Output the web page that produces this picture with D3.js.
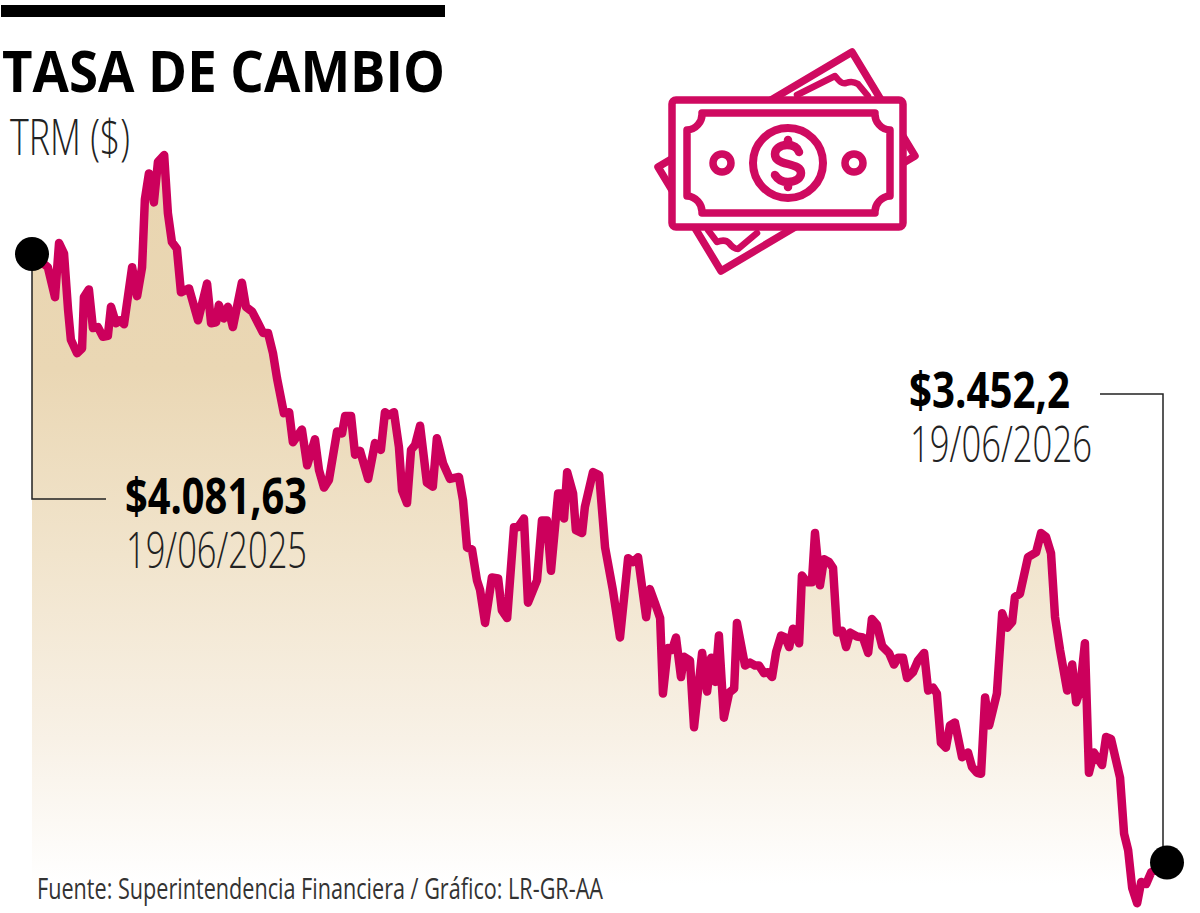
<!DOCTYPE html>
<html lang="es">
<head>
<meta charset="utf-8">
<title>Tasa de cambio</title>
<script src="https://cdn.jsdelivr.net/npm/d3@7"></script>
<style>
  html, body { margin: 0; padding: 0; background: #fff; }
  svg { display: block; }
  text { font-family: "Open Sans", "DejaVu Sans", sans-serif; }
</style>
</head>
<body>
<div id="chart"></div>
<script>
// Días transcurridos desde el 19/06/2025
const dias = [0,5.1,7.4,8.7,10.3,11.6,12.5,14.5,16.1,16.7,18.3,19.6,21.2,22.8,24.4,25.4,27,28.3,29.6,32.2,33.8,35.4,36.3,37.6,39.2,40.5,42.5,43.7,45,46.6,47.9,50.5,53.4,56.3,57.6,59.2,60.1,61.7,63,64.6,67.5,68.8,70.8,72.4,74.3,75.9,77.5,78.8,81,82.7,83.9,86.8,88.5,91,92.3,93.9,95.5,98.1,99.7,100.7,102.6,103.9,105.5,108.1,110.3,112.2,113.5,114.8,116.4,118,119,120.6,121.9,123.2,124.8,127,128.9,130.2,132.2,134.4,137.3,138.6,139.9,141.5,143.1,144.1,145.7,147.9,149.9,151.1,152.8,155,156.3,158.2,159.5,162.4,164,165.6,166.9,169.2,170.4,171.1,172.1,174,174.9,176.9,177.8,180.4,182.4,184.3,186.8,189.1,191.7,193.3,194.9,197.5,198.7,200.4,202,202.9,204.5,205.8,207.1,208.7,209.7,211.6,212.9,215.5,217.1,218.4,219.7,220.9,222.5,224.2,225.8,226.7,229.3,230.9,232.5,233.8,235.4,236.7,238,239.3,240.9,242.2,243.5,244.7,246.7,247.6,249.2,250.8,251.8,253.4,254.7,256.3,257.6,258.9,260.5,261.8,263.1,265.3,267.2,268.9,270.1,271.7,273.4,275.6,277.2,278.5,280.1,281.4,283.3,284.9,286.9,288.2,289.8,291,292.3,293.9,295.2,296.8,299.1,301,302.3,303.9,305.2,306.5,307.8,310.3,312,313.6,315.2,316.1,317.7,320.3,322.9,324.5,326.1,327.7,329,330.6,332.9,334.5,335.8,337,338.6,339.9,341.5,344.1,345.4,347,349.9,351.2,352.5,353.8,355.4,356.7,358.3,359.9,365];

// TRM en pesos por dólar
const trm = [4081.63,4068,4037,4093,4082,4024,3993,3979,3984,4037,4045,4005,4006,3996,3997,4027,4010,4013,4009,4068,4038,4068,4138,4165,4135,4177,4184,4124,4094,4087,4042,4046,4013,4051,4010,4011,4029,4015,4027,4006,4052,4027,4022,4012,4000,4000,3979,3953,3917,3918,3887,3900,3863,3890,3858,3840,3848,3898,3896,3914,3914,3874,3878,3849,3886,3879,3918,3915,3918,3882,3837,3824,3879,3884,3904,3845,3841,3891,3865,3849,3851,3827,3778,3776,3744,3734,3700,3747,3746,3713,3705,3799,3799,3808,3721,3744,3806,3806,3754,3834,3834,3808,3856,3834,3796,3793,3820,3856,3853,3778,3734,3685,3767,3763,3768,3706,3735,3720,3705,3627,3674,3672,3685,3644,3665,3661,3592,3669,3629,3664,3639,3687,3602,3628,3632,3700,3656,3659,3656,3656,3648,3649,3644,3670,3687,3685,3675,3694,3679,3749,3742,3742,3793,3739,3766,3763,3757,3690,3692,3675,3690,3686,3685,3669,3704,3698,3676,3669,3657,3664,3664,3643,3649,3661,3669,3630,3633,3627,3576,3571,3594,3597,3561,3566,3551,3545,3544,3623,3594,3627,3710,3695,3701,3727,3730,3768,3773,3793,3789,3772,3706,3672,3630,3657,3618,3630,3679,3545,3566,3553,3582,3580,3540,3482,3465,3426,3410,3432,3430,3442,3452.2];

const titulo = "TASA DE CAMBIO";
const subtitulo = "TRM ($)";
const valorInicial = "$4.081,63";
const fechaInicial = "19/06/2025";
const valorFinal = "$3.452,2";
const fechaFinal = "19/06/2026";
const fuente = "Fuente: Superintendencia Financiera / Gráfico: LR-GR-AA";

const serie = dias.map((d, i) => ({ dia: d, valor: trm[i] }));

const svg = d3.select("#chart").append("svg")
  .attr("width", 1200).attr("height", 913).attr("viewBox", "0 0 1200 913");

const x = d3.scaleLinear().domain([0, 365]).range([32, 1167]);
const y = d3.scaleLinear().domain([3452.2, 4081.63]).range([862.5, 254]);
const piso = 3400;

// Degradado arena que se desvanece hacia la base del área
const grad = svg.append("defs").append("linearGradient")
  .attr("id", "arena").attr("gradientUnits", "userSpaceOnUse")
  .attr("x1", 0).attr("x2", 0).attr("y1", 150).attr("y2", 885);
grad.selectAll("stop")
  .data([[0, "#e9d5b0"], [0.3, "#ead7b4"], [0.55, "#f1e4cc"], [0.8, "#f8f1e6"], [1, "#ffffff"]])
  .join("stop")
  .attr("offset", d => d[0]).attr("stop-color", d => d[1]);

// Franja y título
svg.append("rect").attr("x", 1).attr("y", 5).attr("width", 444).attr("height", 12).attr("fill", "#000");

function rotulo(txt, px, py, size, weight, ancho, color) {
  return svg.append("text")
    .attr("x", px).attr("y", py)
    .attr("font-size", size).attr("font-weight", weight)
    .attr("fill", color || "#000")
    .attr("textLength", ancho).attr("lengthAdjust", "spacingAndGlyphs")
    .text(txt);
}

rotulo(titulo, 2, 92, 57, 700, 443);
rotulo(subtitulo, 10, 155, 50, 300, 120, "#222");

// Área y línea de la serie
svg.append("path").datum(serie)
  .attr("fill", "url(#arena)")
  .attr("d", d3.area().x(d => x(d.dia)).y0(y(piso)).y1(d => y(d.valor)));

svg.append("path").datum(serie)
  .attr("fill", "none")
  .attr("stroke", "#cc005c").attr("stroke-width", 8.5)
  .attr("stroke-linejoin", "round").attr("stroke-linecap", "round")
  .attr("d", d3.line().x(d => x(d.dia)).y(d => y(d.valor)));

// Guías de los valores extremos
const guia = d3.line();
svg.append("path")
  .attr("d", guia([[x(0), y(trm[0])], [x(0), 499], [106, 499]]))
  .attr("fill", "none").attr("stroke", "#222").attr("stroke-width", 1.5);
svg.append("path")
  .attr("d", guia([[1100, 394], [1163, 394], [1163, y(trm[trm.length - 1])]]))
  .attr("fill", "none").attr("stroke", "#222").attr("stroke-width", 1.5);

// Puntos inicial y final
svg.selectAll("circle.extremo")
  .data([serie[0], serie[serie.length - 1]])
  .join("circle").attr("class", "extremo")
  .attr("cx", d => x(d.dia)).attr("cy", d => y(d.valor)).attr("r", 17).attr("fill", "#000");

// Rótulos de valor y fecha
rotulo(valorInicial, 125, 514, 50, 700, 182);
rotulo(fechaInicial, 126, 568, 50, 300, 181, "#222");
rotulo(valorFinal, 909, 408, 50, 700, 161);
rotulo(fechaFinal, 910, 462, 50, 300, 182, "#222");
rotulo(fuente, 37, 899, 30, 400, 566, "#333");

// Ícono de billetes
const icono = svg.append("g")
  .attr("fill", "none").attr("stroke", "#cf0a60").attr("stroke-width", 7.5)
  .attr("stroke-linejoin", "round").attr("stroke-linecap", "round");

icono.append("path").attr("fill", "#fff").attr("d", "M852,52 L915,156 L721,271 L658,167 Z");
icono.append("path").attr("stroke-width", 6.5).attr("d", "M797,95 L835,76 C840,82 842,84 846,83 C851,81 855,82 858,84 L868,96");
icono.append("path").attr("stroke-width", 6.5).attr("d", "M708,230 L717,242 C722,240 726,240 729,243 C732,247 735,249 738,249 L757,233");
icono.append("rect").attr("x", 672).attr("y", 100).attr("width", 231).attr("height", 127).attr("rx", 4).attr("fill", "#fff");
icono.append("path").attr("d", "M702,113 H875 A16,16 0 0 0 890,130 V196 A16,16 0 0 0 875,213 H702 A16,16 0 0 0 687,196 V130 A16,16 0 0 0 702,113 Z");
icono.append("circle").attr("cx", 788).attr("cy", 163).attr("r", 35).attr("stroke-width", 8);
icono.append("circle").attr("cx", 722).attr("cy", 163).attr("r", 9);
icono.append("circle").attr("cx", 854).attr("cy", 163).attr("r", 9);
icono.append("path").attr("stroke-width", 8.5)
  .attr("d", "M799,152 C797,146 792,145 787,145 C779,145 775,150 775,154 C775,160 780,162 788,164 C796,166 801,168 801,173 C801,178 796,182 788,182 C782,182 778,180 775,175 M788,140 V145 M788,182 V187");
</script>
</body>
</html>
